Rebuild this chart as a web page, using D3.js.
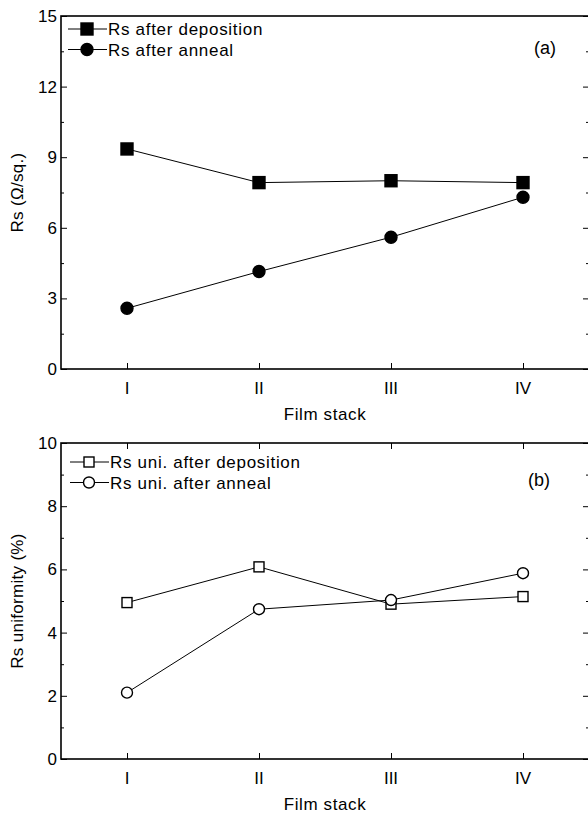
<!DOCTYPE html>
<html>
<head>
<meta charset="utf-8">
<script src="https://cdn.jsdelivr.net/npm/d3@7"></script>
<style>
  body{margin:0;background:#fff}
  svg{display:block;font-family:"Liberation Sans",Arial,sans-serif}
  svg text{fill:#000}
</style>
</head>
<body>
<svg id="chart" width="588" height="814"></svg>
<script>
// film stacks
var stacks = ["I", "II", "III", "IV"]
// panel (a) sheet resistance, ohm/sq
var rsDep = [9.35, 7.92, 8.0, 7.92]
var rsAnneal = [2.58, 4.14, 5.6, 7.3]
// panel (b) uniformity, %
var uniDep = [4.95, 6.08, 4.9, 5.14]
var uniAnneal = [2.1, 4.74, 5.03, 5.88]
var ticksA = [0, 3, 6, 9, 12, 15]
var ticksB = [0, 2, 4, 6, 8, 10]

var svg = d3.select("#chart")
var left = 61, right = 589

var x = d3.scaleLinear()
      .domain([0.5, 4.5])
      .range([left, right])

function panel(cfg){
  var y = d3.scaleLinear().domain(cfg.domain).range([cfg.bottom, cfg.top])
  var g = svg.append("g")

  // frame
  g.append("rect")
   .attr("x", left).attr("y", cfg.top)
   .attr("width", right-left).attr("height", cfg.bottom-cfg.top)
   .attr("fill","none").attr("stroke","#000").attr("stroke-width",1.6)

  var step = cfg.ticks[1]-cfg.ticks[0]
  var minor = cfg.ticks.slice(0,-1).map(d=>d+step/2)

  // left axis
  g.append("g").attr("transform","translate("+left+",0)")
   .call(d3.axisRight(y).tickValues(cfg.ticks).tickSize(6).tickFormat(""))
   .call(a=>a.select(".domain").remove())
  g.append("g").attr("transform","translate("+left+",0)")
   .call(d3.axisRight(y).tickValues(minor).tickSize(3).tickFormat(""))
   .call(a=>a.select(".domain").remove())
  g.selectAll("text.ylab").data(cfg.ticks).enter().append("text")
   .attr("x", left-4).attr("y", d=>y(d)+6)
   .attr("text-anchor","end").style("font-size","17px")
   .text(d=>d)

  // right axis
  g.append("g").attr("transform","translate("+right+",0)")
   .call(d3.axisLeft(y).tickValues(cfg.ticks).tickSize(6).tickFormat(""))
   .call(a=>a.select(".domain").remove())
  g.append("g").attr("transform","translate("+right+",0)")
   .call(d3.axisLeft(y).tickValues(minor).tickSize(3).tickFormat(""))
   .call(a=>a.select(".domain").remove())

  // bottom axis
  g.append("g").attr("transform","translate(0,"+cfg.bottom+")")
   .call(d3.axisTop(x).tickValues([1,2,3,4]).tickSize(6).tickFormat(""))
   .call(a=>a.select(".domain").remove())
  if(cfg.topTicks){
    g.append("g").attr("transform","translate(0,"+cfg.top+")")
     .call(d3.axisBottom(x).tickValues([1,2,3,4]).tickSize(6).tickFormat(""))
     .call(a=>a.select(".domain").remove())
  }
  g.selectAll("text.xlab").data(stacks).enter().append("text")
   .attr("x",(d,i)=>x(i+1)).attr("y", cfg.bottom+25)
   .attr("text-anchor","middle").style("font-size","17px")
   .text(d=>d)

  g.append("text")
   .attr("x", 325).attr("y", cfg.bottom+51)
   .attr("text-anchor","middle").style("font-size","17px")
   .style("letter-spacing","0.6px")
   .text("Film stack")
  g.append("text")
   .attr("transform","translate(23,"+((cfg.top+cfg.bottom)/2)+") rotate(-90)")
   .attr("text-anchor","middle").style("font-size","17px")
   .style("letter-spacing","0.3px")
   .text(cfg.ylabel)

  g.append("text")
   .attr("x", cfg.tagX).attr("y", cfg.top+cfg.tagDy)
   .attr("text-anchor","middle").style("font-size","18px")
   .text(cfg.tag)

  var line = d3.line().x((d,i)=>x(i+1)).y(d=>y(d))

  cfg.series.forEach(function(s, k){
    g.append("path").datum(s.values)
     .attr("d", line).attr("fill","none")
     .attr("stroke","#000").attr("stroke-width",1)
    var m = g.selectAll(null).data(s.values).enter()
    drawMarker(m, s, (d,i)=>x(i+1), d=>y(d))

    // legend
    var ly = cfg.top + cfg.legDy + k*20.5
    g.append("line").attr("x1",cfg.legX-19).attr("x2",cfg.legX+20)
     .attr("y1",ly).attr("y2",ly).attr("stroke","#000").attr("stroke-width",1)
    drawMarker(g.selectAll(null).data([0]).enter(), s, ()=>cfg.legX, ()=>ly)
    g.append("text").attr("x",cfg.legX+21).attr("y",ly+6)
     .style("font-size","17px").style("letter-spacing","0.7px").text(s.name)
  })
}

function drawMarker(sel, s, fx, fy){
  var fill = s.filled ? "#000" : "#fff"
  if(s.shape=="square"){
    var h = s.filled ? 6 : 5
    sel.append("rect")
       .attr("x",(d,i)=>fx(d,i)-h).attr("y",(d,i)=>fy(d,i)-h)
       .attr("width",2*h).attr("height",2*h)
       .attr("fill",fill).attr("stroke","#000").attr("stroke-width",1.4)
  } else {
    sel.append("circle")
       .attr("cx",(d,i)=>fx(d,i)).attr("cy",(d,i)=>fy(d,i))
       .attr("r", s.filled ? 6 : 5.5)
       .attr("fill",fill).attr("stroke","#000").attr("stroke-width",1.4)
  }
}

panel({
  top:16, bottom:369, domain:[0,15], ticks:ticksA,
  ylabel:"Rs (Ω/sq.)", tag:"(a)", topTicks:false,
  tagX:545, tagDy:38, legX:87, legDy:13,
  series:[
    {name:"Rs after deposition", values:rsDep, shape:"square", filled:true},
    {name:"Rs after anneal", values:rsAnneal, shape:"circle", filled:true}
  ]
})

panel({
  top:443, bottom:759, domain:[0,10], ticks:ticksB,
  ylabel:"Rs uniformity (%)", tag:"(b)", topTicks:true,
  tagX:539, tagDy:43, legX:89, legDy:19,
  series:[
    {name:"Rs uni. after deposition", values:uniDep, shape:"square", filled:false},
    {name:"Rs uni. after anneal", values:uniAnneal, shape:"circle", filled:false}
  ]
})
</script>
</body>
</html>
